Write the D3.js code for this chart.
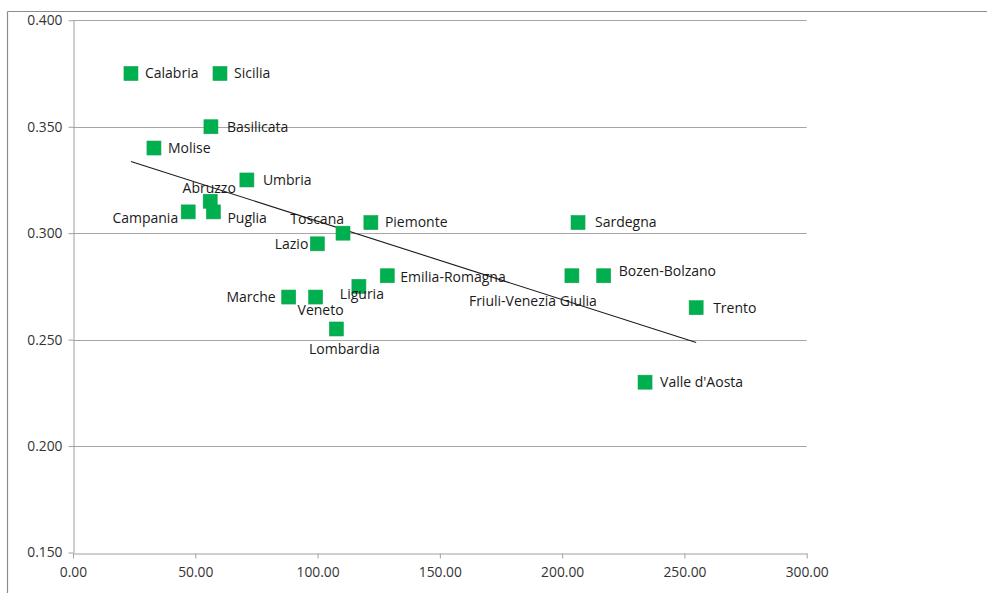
<!DOCTYPE html>
<html>
<head>
<meta charset="utf-8">
<script src="https://cdn.jsdelivr.net/npm/d3@7"></script>
<style>
  body { margin: 0; background: #fff; }
  svg text { font-family: "Open Sans", "Noto Sans", sans-serif; }
</style>
</head>
<body>
<div id="chart"></div>
<script>
// regions and their values (x, y)
var regions = ["Calabria", "Sicilia", "Basilicata", "Molise", "Umbria", "Abruzzo", "Campania", "Puglia",
  "Toscana", "Lazio", "Piemonte", "Sardegna", "Emilia-Romagna", "Liguria", "Marche", "Veneto",
  "Lombardia", "Friuli-Venezia Giulia", "Bozen-Bolzano", "Trento", "Valle d'Aosta"];
var xValues = [23.7, 60.1, 56.4, 33.1, 71.1, 56.1, 47.1, 57.4,
  110.4, 99.9, 121.8, 206.5, 128.5, 116.9, 88.2, 99.2,
  107.7, 204.0, 217.0, 254.8, 233.9];
var yValues = [0.375, 0.375, 0.350, 0.340, 0.325, 0.315, 0.310, 0.310,
  0.300, 0.295, 0.305, 0.305, 0.280, 0.275, 0.270, 0.270,
  0.255, 0.280, 0.280, 0.265, 0.230];

var xTicks = [0, 50, 100, 150, 200, 250, 300];
var yTicks = [0.150, 0.200, 0.250, 0.300, 0.350, 0.400];

// where each label sits relative to its marker: [anchor, dx, dy]
var labelPlace = {
  "Calabria": ["start", 14, 0], "Sicilia": ["start", 14, 0], "Basilicata": ["start", 16, 0],
  "Molise": ["start", 14, 0], "Umbria": ["start", 16, 0], "Abruzzo": ["middle", -1, -13],
  "Campania": ["end", -10, 6], "Puglia": ["start", 14, 6], "Toscana": ["end", 1, -14],
  "Lazio": ["end", -9, 0], "Piemonte": ["start", 14, 0], "Sardegna": ["start", 17, 0],
  "Emilia-Romagna": ["start", 13, 1], "Liguria": ["middle", 3, 8], "Marche": ["end", -13, 0],
  "Veneto": ["middle", 5, 13], "Lombardia": ["middle", 8, 20], "Friuli-Venezia Giulia": ["middle", -39, 25],
  "Bozen-Bolzano": ["start", 15, -5], "Trento": ["start", 17, 0], "Valle d'Aosta": ["start", 15, 0]
};

var points = regions.map(function(r, i) {
  return { name: r, x: xValues[i], y: yValues[i] };
});

var width = 987, height = 593;
var svg = d3.select("#chart").append("svg")
  .attr("width", width)
  .attr("height", height);

// outer frame (top and left edges visible)
svg.append("line").attr("x1", 7.5).attr("x2", width).attr("y1", 11.5).attr("y2", 11.5)
  .attr("stroke", "#8c8c8c").attr("stroke-width", 1.2);
svg.append("line").attr("x1", 7.5).attr("x2", 7.5).attr("y1", 11.5).attr("y2", height)
  .attr("stroke", "#8c8c8c").attr("stroke-width", 1.2);

var xScale = d3.scaleLinear().domain([0, 300]).range([73, 806.7]);
var yScale = d3.scaleLinear().domain([0.150, 0.400]).range([552.5, 20.3]);

// gridlines
svg.append("g")
  .selectAll("line")
  .data(yTicks.filter(function(d) { return d > 0.15; }))
  .enter().append("line")
  .attr("x1", xScale(0))
  .attr("x2", xScale(300))
  .attr("y1", function(d) { return Math.round(yScale(d)) + 0.5; })
  .attr("y2", function(d) { return Math.round(yScale(d)) + 0.5; })
  .attr("stroke", "#a6a6a6")
  .attr("stroke-width", 1);

// axes
var xAxis = d3.axisBottom(xScale).tickValues(xTicks).tickSize(5).tickSizeOuter(0)
  .tickFormat(d3.format(".2f"));
svg.append("g")
  .attr("class", "axis x-axis")
  .attr("transform", "translate(0," + (Math.round(yScale(0.15)) + 0.5) + ")")
  .call(xAxis);

var yAxis = d3.axisLeft(yScale).tickValues(yTicks).tickSize(5).tickSizeOuter(0)
  .tickFormat(d3.format(".3f"));
svg.append("g")
  .attr("class", "axis y-axis")
  .attr("transform", "translate(" + (Math.round(xScale(0)) + 0.5) + ",0)")
  .call(yAxis);

svg.selectAll(".axis path, .axis line").attr("stroke", "#a0a0a0");
svg.selectAll(".axis text")
  .attr("fill", "#333")
  .style("font-size", "13.8px");
svg.selectAll(".x-axis text").attr("y", 14);
svg.selectAll(".y-axis text").attr("x", -11);

// linear trendline (least squares over the points)
var mx = d3.mean(xValues), my = d3.mean(yValues);
var sxy = d3.sum(points, function(d) { return (d.x - mx) * (d.y - my); });
var sxx = d3.sum(points, function(d) { return (d.x - mx) * (d.x - mx); });
var slope = sxy / sxx, intercept = my - slope * mx;
var trendX = d3.extent(xValues);
svg.append("path")
  .datum(trendX)
  .attr("d", d3.line()
    .x(function(d) { return xScale(d); })
    .y(function(d) { return yScale(intercept + slope * d); }))
  .attr("fill", "none")
  .attr("stroke", "#1a1a1a")
  .attr("stroke-width", 1.1);

// markers
var size = 14;
svg.append("g")
  .selectAll("rect")
  .data(points)
  .enter().append("rect")
  .attr("x", function(d) { return xScale(d.x) - size / 2; })
  .attr("y", function(d) { return yScale(d.y) - size / 2; })
  .attr("width", size)
  .attr("height", size)
  .attr("fill", "#00b050")
  .attr("stroke", "#12a54c")
  .attr("stroke-width", 0.6);

// labels
svg.append("g")
  .selectAll("text")
  .data(points)
  .enter().append("text")
  .attr("x", function(d) { return xScale(d.x) + labelPlace[d.name][1]; })
  .attr("y", function(d) { return yScale(d.y) + labelPlace[d.name][2]; })
  .attr("dy", ".35em")
  .attr("text-anchor", function(d) { return labelPlace[d.name][0]; })
  .attr("fill", "#1a1a1a")
  .style("font-size", "14px")
  .text(function(d) { return d.name; });
</script>
</body>
</html>
